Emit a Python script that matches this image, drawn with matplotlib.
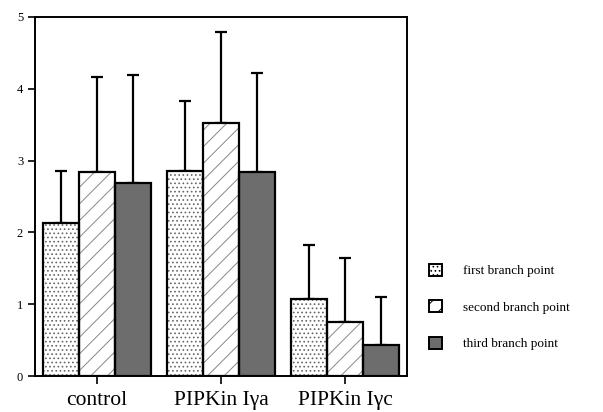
import numpy as np
import matplotlib
matplotlib.use("Agg")
import matplotlib.pyplot as plt
from matplotlib.patches import Patch

groups = ["control", "PIPKin Iγa", "PIPKin Iγc"]
series = ["first branch point", "second branch point", "third branch point"]
first_vals = [2.13, 2.86, 1.07]
first_err = [0.73, 0.97, 0.75]
second_vals = [2.84, 3.53, 0.76]
second_err = [1.33, 1.26, 0.89]
third_vals = [2.69, 2.84, 0.44]
third_err = [1.50, 1.38, 0.66]

plt.rcParams['font.family'] = ['Liberation Serif', 'DejaVu Serif']
plt.rcParams['hatch.linewidth'] = 0.7

fig = plt.figure(figsize=(6.03, 4.12), dpi=100)
ax = fig.add_axes([0.058, 0.087, 0.617, 0.872])

x = np.arange(len(groups))
w = 0.288
fills = ["white", "white", "#6d6d6d"]
hatches = ["....", "//", None]
hatch_cols = ["#666666", "#888888", "black"]
data = [(first_vals, first_err), (second_vals, second_err), (third_vals, third_err)]

for i, (vals, errs) in enumerate(data):
    pos = x + (i - 1) * w
    # hatch layer, then black outline on top
    ax.bar(pos, vals, w, facecolor=fills[i], hatch=hatches[i],
           edgecolor=hatch_cols[i], linewidth=0, zorder=2)
    ax.bar(pos, vals, w, facecolor="none", edgecolor="black", linewidth=1.6, zorder=3)
    ax.errorbar(pos, vals, yerr=[np.zeros(len(errs)), errs], fmt="none",
                ecolor="black", elinewidth=1.6, capsize=4, capthick=1.6, zorder=1)

ax.set_xlim(-0.5, 2.5)
ax.set_ylim(0, 5)
ax.set_yticks([0, 1, 2, 3, 4, 5])
ax.set_xticks(x)
ax.set_xticklabels(groups, fontsize=15.5)
ax.tick_params(axis="y", labelsize=9, direction="out", length=5, width=1.2)
ax.tick_params(axis="x", direction="out", length=6, width=1.2, pad=5)
for s in ax.spines.values():
    s.set_linewidth(1.4)

handles = [
    Patch(facecolor="white", hatch="....", edgecolor="black", linewidth=1.4),
    Patch(facecolor="white", hatch="//", edgecolor="black", linewidth=1.4),
    Patch(facecolor="#6d6d6d", edgecolor="black", linewidth=1.4),
]
fig.legend(handles, series, loc="center left", bbox_to_anchor=(0.692, 0.255),
           frameon=False, fontsize=9.5, handlelength=1.0, handleheight=1.0,
           labelspacing=1.75, handletextpad=1.6)

fig.savefig("out.png", dpi=100)
